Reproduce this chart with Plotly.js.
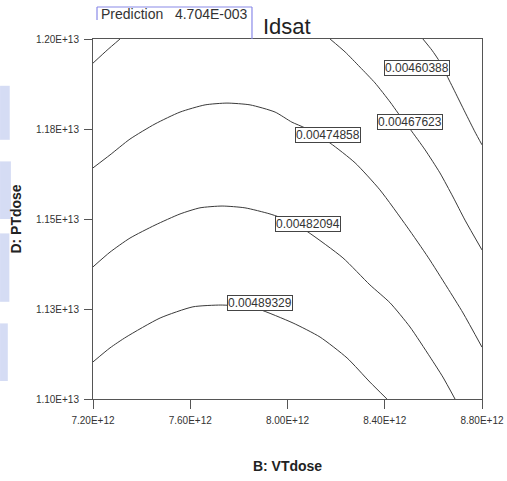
<!DOCTYPE html>
<html>
<head>
<meta charset="utf-8">
<script src="https://cdn.plot.ly/plotly-3.0.1.min.js"></script>
<style>
  html, body { margin: 0; padding: 0; background: #ffffff; }
  #chart { width: 507px; height: 481px; }
</style>
</head>
<body>
<div id="chart"></div>
<script>
// Units: B: VTdose in 1e12, D: PTdose in 1e12
const xTickVals = [7.2, 7.6, 8.0, 8.4, 8.8];
const xTickText = ['7.20E+12', '7.60E+12', '8.00E+12', '8.40E+12', '8.80E+12'];
const yTickVals = [11.0, 11.25, 11.5, 11.75, 12.0];
const yTickText = ['1.10E+13', '1.13E+13', '1.15E+13', '1.18E+13', '1.20E+13'];

// Contour 0.00460388 (top-right)
const c460388_x = [8.557, 8.594, 8.627, 8.652, 8.689, 8.730, 8.771, 8.800];
const c460388_y = [12.000, 11.969, 11.936, 11.903, 11.853, 11.797, 11.742, 11.706];

// Contour 0.00467623 (two branches)
const c467623a_x = [7.200, 7.258, 7.311];
const c467623a_y = [11.933, 11.969, 12.000];
const c467623b_x = [8.175, 8.237, 8.298, 8.360, 8.422, 8.455, 8.504, 8.566, 8.627, 8.681, 8.730, 8.800];
const c467623b_y = [12.000, 11.964, 11.922, 11.878, 11.825, 11.794, 11.750, 11.692, 11.628, 11.561, 11.497, 11.414];

// Contour 0.00474858
const c474858_x = [7.200, 7.270, 7.352, 7.455, 7.558, 7.661, 7.751, 7.846, 7.949, 8.018, 8.072, 8.175, 8.278, 8.380, 8.492, 8.578, 8.656, 8.722, 8.800];
const c474858_y = [11.642, 11.678, 11.722, 11.764, 11.797, 11.817, 11.822, 11.817, 11.797, 11.769, 11.753, 11.711, 11.656, 11.581, 11.478, 11.394, 11.311, 11.239, 11.144];

// Contour 0.00482094
const c482094_x = [7.200, 7.270, 7.352, 7.455, 7.558, 7.640, 7.731, 7.825, 7.928, 8.010, 8.084, 8.228, 8.339, 8.422, 8.504, 8.586, 8.639, 8.689];
const c482094_y = [11.367, 11.408, 11.447, 11.483, 11.514, 11.531, 11.536, 11.531, 11.514, 11.494, 11.464, 11.392, 11.317, 11.267, 11.200, 11.117, 11.061, 11.000];

// Contour 0.00489329
const c489329_x = [7.200, 7.270, 7.336, 7.476, 7.611, 7.726, 7.805, 7.879, 8.023, 8.134, 8.245, 8.339, 8.409];
const c489329_y = [11.103, 11.142, 11.172, 11.225, 11.256, 11.261, 11.258, 11.250, 11.211, 11.172, 11.114, 11.047, 11.000];

// Contour labels
const labelText = ['0.00460388', '0.00467623', '0.00474858', '0.00482094', '0.00489329'];
const labelX = [8.533, 8.502, 8.165, 8.084, 7.887];
const labelY = [11.919, 11.769, 11.732, 11.485, 11.268];

const lineStyle = { color: '#3a3a3a', width: 1, shape: 'spline', smoothing: 0.6 };
const series = [
  [c460388_x, c460388_y],
  [c467623a_x, c467623a_y],
  [c467623b_x, c467623b_y],
  [c474858_x, c474858_y],
  [c482094_x, c482094_y],
  [c489329_x, c489329_y]
];
const traces = series.map(s => ({
  type: 'scatter', mode: 'lines', x: s[0], y: s[1],
  line: lineStyle, hoverinfo: 'skip', showlegend: false
}));

const annotations = labelText.map((t, i) => ({
  x: labelX[i], y: labelY[i], xref: 'x', yref: 'y', text: t, showarrow: false,
  font: { family: 'Liberation Sans, Arial, sans-serif', size: 12, color: '#333333' },
  bgcolor: '#ffffff', bordercolor: '#444444', borderwidth: 1, borderpad: 0
}));

annotations.push({
  xref: 'paper', yref: 'paper', x: 0.0154, y: 1.070, xanchor: 'left', yanchor: 'middle',
  text: 'Prediction&nbsp;&nbsp;&nbsp;4.704E-003', showarrow: false,
  font: { family: 'Liberation Sans, Arial, sans-serif', size: 14, color: '#333333' }
});

const blue = 'rgba(150,168,228,0.40)';
const shapes = [
  // prediction box outline (top, left, right edges)
  { type: 'line', xref: 'paper', yref: 'paper', x0: 0.0103, x1: 0.4087, y0: 1.0889, y1: 1.0889, line: { color: '#8a8ae8', width: 1.2 } },
  { type: 'line', xref: 'paper', yref: 'paper', x0: 0.0103, x1: 0.0103, y0: 1.0889, y1: 1.0528, line: { color: '#8a8ae8', width: 1.2 } },
  { type: 'line', xref: 'paper', yref: 'paper', x0: 0.4087, x1: 0.4087, y0: 1.0889, y1: 1.0, line: { color: '#8a8ae8', width: 1.2 } },
  // faint blue smudges on the left edge
  { type: 'rect', xref: 'paper', yref: 'paper', x0: -0.239, x1: -0.214, y0: 0.72, y1: 0.87, fillcolor: blue, line: { width: 0 } },
  { type: 'rect', xref: 'paper', yref: 'paper', x0: -0.239, x1: -0.211, y0: 0.50, y1: 0.66, fillcolor: blue, line: { width: 0 } },
  { type: 'rect', xref: 'paper', yref: 'paper', x0: -0.239, x1: -0.215, y0: 0.27, y1: 0.46, fillcolor: blue, line: { width: 0 } },
  { type: 'rect', xref: 'paper', yref: 'paper', x0: -0.239, x1: -0.219, y0: 0.05, y1: 0.21, fillcolor: blue, line: { width: 0 } }
];

const axisFont = { family: 'Liberation Sans, Arial, sans-serif', size: 10, color: '#333333' };

const layout = {
  width: 507, height: 481,
  margin: { l: 93, r: 25, t: 39, b: 82 },
  paper_bgcolor: '#ffffff', plot_bgcolor: '#ffffff',
  showlegend: false,
  title: {
    text: 'Idsat', xref: 'paper', yref: 'container', x: 0.437, xanchor: 'left',
    y: 0.945, yanchor: 'middle',
    font: { family: 'Liberation Sans, Arial, sans-serif', size: 22, color: '#222222' }
  },
  xaxis: {
    range: [7.2, 8.8], tickvals: xTickVals, ticktext: xTickText,
    showgrid: false, zeroline: false, showline: true, mirror: true,
    linecolor: '#555555', linewidth: 1, ticks: 'outside', ticklen: 9, tickcolor: '#555555',
    ticklabelstandoff: 3,
    tickfont: axisFont,
    title: { text: '<b>B: VTdose</b>', standoff: 36, font: { family: 'Liberation Sans, Arial, sans-serif', size: 14, color: '#222222' } }
  },
  yaxis: {
    range: [11.0, 12.0], tickvals: yTickVals, ticktext: yTickText,
    showgrid: false, zeroline: false, showline: true, mirror: true,
    linecolor: '#555555', linewidth: 1, ticks: 'outside', ticklen: 8, tickcolor: '#555555',
    ticklabelstandoff: 3,
    tickfont: axisFont,
    title: { text: '<b>D: PTdose</b>', standoff: 10, font: { family: 'Liberation Sans, Arial, sans-serif', size: 14, color: '#222222' } }
  },
  annotations: annotations,
  shapes: shapes
};

Plotly.newPlot('chart', traces, layout, { displayModeBar: false, staticPlot: true });
</script>
</body>
</html>
